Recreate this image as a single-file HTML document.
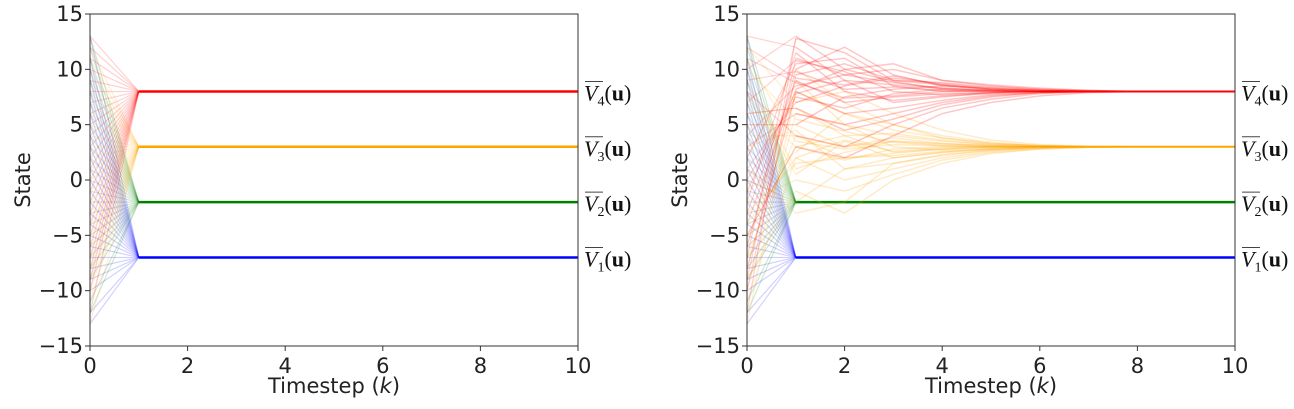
<!DOCTYPE html>
<html><head><meta charset="utf-8"><style>
body{margin:0;background:#fff;width:1294px;height:404px;overflow:hidden}
svg text{font-family:"DejaVu Sans",sans-serif}
svg text.math{font-family:"Liberation Serif",serif}
</style></head><body>
<svg id="chart" width="1294" height="404" xmlns="http://www.w3.org/2000/svg"></svg>
<script>
const xTicks=[0,2,4,6,8,10];
const yTicks=[-15,-10,-5,0,5,10,15];
const targets=[-7,-2,3,8];
const colors=["#0000ff","#008000","#ffa500","#ff0000"];
const starts0=[-12,-9,-6,-4,-2,0,2,4,6,9,11,-10,-3,1,5,8,-13,13,-7,3,7,-1,-5,10,-8];
const starts1=[-11,-8,-5,-3,-1,1,3,5,7,10,12,-9,-6,0,2,4,6,-12,9,-2,8,-4,11,-7,13];
const starts2=[-13,-10,-7,-4,-2,0,2,5,7,9,12,-9,-6,-1,1,3,6,8,11,-11,4,-3,10,-5,-8];
const starts3=[-12,-9,-6,-3,-1,1,3,5,8,10,13,-10,-5,-2,0,2,4,6,9,11,-8,7,12,-4,-7];
const startsL=[starts0,starts1,starts2,starts3];
// right panel trajectories, values at k=1..10
const redTraj=[
[12.8,11.5,9,8.6,8.2,8.1,8,8,8,8],[11,9.5,8.8,8.3,8.1,8,8,8,8,8],[10,12,9.5,8.5,8.3,8.1,8.05,8,8,8],
[9,7,7.5,7.8,7.9,8,8,8,8,8],[8,6,6.5,7.2,7.7,7.9,8,8,8,8],[7,8.5,9.2,8.7,8.3,8.1,8,8,8,8],
[6,5,6,7,7.6,7.9,8,8,8,8],[5,7.5,8.2,8.5,8.2,8.1,8,8,8,8],[4,3,5,6.5,7.3,7.8,7.95,8,8,8],
[13,10,10.5,9,8.5,8.2,8.1,8,8,8],[12,9,7,7.5,7.9,8,8,8,8,8],[9.5,10.5,9,8.8,8.4,8.2,8.05,8,8,8],
[3,2,4,6,7,7.6,7.9,8,8,8],[11.5,8,7.2,7.6,7.8,7.95,8,8,8,8],[7.5,6.5,7.8,8.2,8.1,8,8,8,8,8],
[10.5,11,8.5,8,8,8,8,8,8,8],[8.5,9.5,10,9,8.6,8.3,8.1,8,8,8],[6.5,4.5,5.5,6.8,7.5,7.9,8,8,8,8],
[9.8,8.2,8.4,8.1,8,8,8,8,8,8],[8.8,7.4,7.6,8,8.1,8,8,8,8,8],[7.8,9,8.6,8.3,8.1,8,8,8,8,8],
[10.8,9.8,8,7.7,7.9,8,8,8,8,8],[9.2,8.6,9.4,8.6,8.2,8.05,8,8,8,8],[8.2,10,8.9,8.2,8,8,8,8,8,8]];
const orangeTraj=[
[8,6,4.5,3.8,3.3,3.1,3,3,3,3],[6,5,4,3.5,3.2,3.1,3,3,3,3],[4,2,2.2,2.6,2.8,2.95,3,3,3,3],
[2,0,1,2,2.6,2.9,3,3,3,3],[0,-1,0.5,1.8,2.5,2.8,2.95,3,3,3],[-2,1,2,2.5,2.8,2.95,3,3,3,3],
[10,7,5,4,3.4,3.1,3,3,3,3],[5,3,3.5,3.3,3.1,3,3,3,3,3],[3,4,2.5,2.8,3,3,3,3,3,3],
[1,2.5,3.5,3.2,3.1,3,3,3,3,3],[7,8,6,4.5,3.6,3.2,3.05,3,3,3],[-1,-3,0,1.5,2.4,2.8,2.95,3,3,3],
[9,5,3,2.7,2.9,3,3,3,3,3],[2.5,6,5,3.8,3.3,3.1,3,3,3,3],[-3,-2,1.5,2.2,2.7,2.9,3,3,3,3],
[4.5,1,1.5,2.3,2.7,2.9,3,3,3,3],[6.5,4,4.2,3.6,3.2,3.05,3,3,3,3],[0.5,3.5,2,2.5,2.8,3,3,3,3,3],
[3.5,2.8,3.2,3.1,3,3,3,3,3,3],[2,3.6,2.6,2.9,3,3,3,3,3,3],[4,3,3.8,3.3,3.1,3,3,3,3,3],
[1.5,2,2.4,2.8,2.95,3,3,3,3,3],[5.5,4.4,3.4,3.1,3,3,3,3,3,3],[3,1.8,2.8,3,3,3,3,3,3,3]];
const svg=document.getElementById('chart');
const NS="http://www.w3.org/2000/svg";
function mk(t,a,p){const e=document.createElementNS(NS,t);for(const k in a)e.setAttribute(k,a[k]);(p||svg).appendChild(e);return e;}
function panel(x0,x1,yt,yb,right,name){
  const g=mk('g',{});
  
  
  const sx=v=>x0+(x1-x0)*v/10, sy=v=>yt+(yb-yt)*(15-v)/30;
  const lines=mk('g',{},g);
  for(let c=0;c<4;c++){
    const st=startsL[c];
    const faded=right&&c>=2;
    const tr=c==3?redTraj:orangeTraj;
    for(let i=0;i<st.length;i++){
      const l=mk('line',{x1:sx(0),y1:sy(st[i]),x2:sx(1),y2:sy(faded?tr[i%tr.length][0]:targets[c]),stroke:colors[c],'stroke-width':1.2,'stroke-opacity':0.18},lines);
      
      
    }
    if(faded){
      for(const t of tr){
        const pts=t.map((v,k)=>sx(k+1)+','+sy(v)).join(' ');
        const pl=mk('polyline',{points:pts,fill:'none',stroke:colors[c],'stroke-width':1.5,'stroke-opacity':0.22},lines);
        
        
      }
      const cl=mk('line',{x1:sx(6),y1:sy(targets[c]),x2:sx(10),y2:sy(targets[c]),stroke:colors[c],'stroke-width':2},lines);
      
      
    } else {
      const cl=mk('line',{x1:sx(1),y1:sy(targets[c]),x2:sx(10),y2:sy(targets[c]),stroke:colors[c],'stroke-width':2.5},lines);
      
      
    }
  }
  const fr=mk('rect',{x:x0,y:yt,width:x1-x0,height:yb-yt,fill:'none',stroke:'#333','stroke-width':1},g);
  
  
  for(const t of xTicks){
    mk('line',{x1:sx(t),y1:yb,x2:sx(t),y2:yb+5,stroke:'#333'},g);
    const tx=mk('text',{x:sx(t),y:yb+27,'font-size':21,'text-anchor':'middle',fill:'#222'},g);
    tx.textContent=t;
    
    
  }
  for(const t of yTicks){
    mk('line',{x1:x0-5,y1:sy(t),x2:x0,y2:sy(t),stroke:'#333'},g);
    const tx=mk('text',{x:x0-7,y:sy(t)+7,'font-size':21,'text-anchor':'end',fill:'#222'},g);
    tx.textContent=t<0?'\u2212'+(-t):t;
    
    
  }
  const xl=mk('text',{x:(x0+x1)/2,y:393,'font-size':21,'text-anchor':'middle',fill:'#222'},g);
  xl.innerHTML='Timestep (<tspan font-style="italic">k</tspan>)';
  
  
  const yl=mk('text',{x:0,y:0,'font-size':21,'text-anchor':'middle',fill:'#222',transform:`translate(${x0-60},${(yt+yb)/2}) rotate(-90)`},g);
  yl.textContent='State';
  
  
  for(let c=0;c<4;c++){
    const y=sy(targets[c]);
    const lg=mk('text',{x:x1+6,y:y+9,'font-size':22,fill:'#111','class':'math'},g);
    lg.innerHTML=`<tspan font-style="italic">V</tspan><tspan font-size="14" dy="5">${c+1}</tspan><tspan dy="-5">(</tspan><tspan font-weight="bold">u</tspan>)`;
    
    
    mk('line',{x1:x1+7,y1:y-10,x2:x1+25,y2:y-10,stroke:'#444','stroke-width':1},g);
  }
}
panel(90,578,14,346,false,'left-panel');
panel(747,1235,14,346,true,'right-panel');
</script>
</body></html>
